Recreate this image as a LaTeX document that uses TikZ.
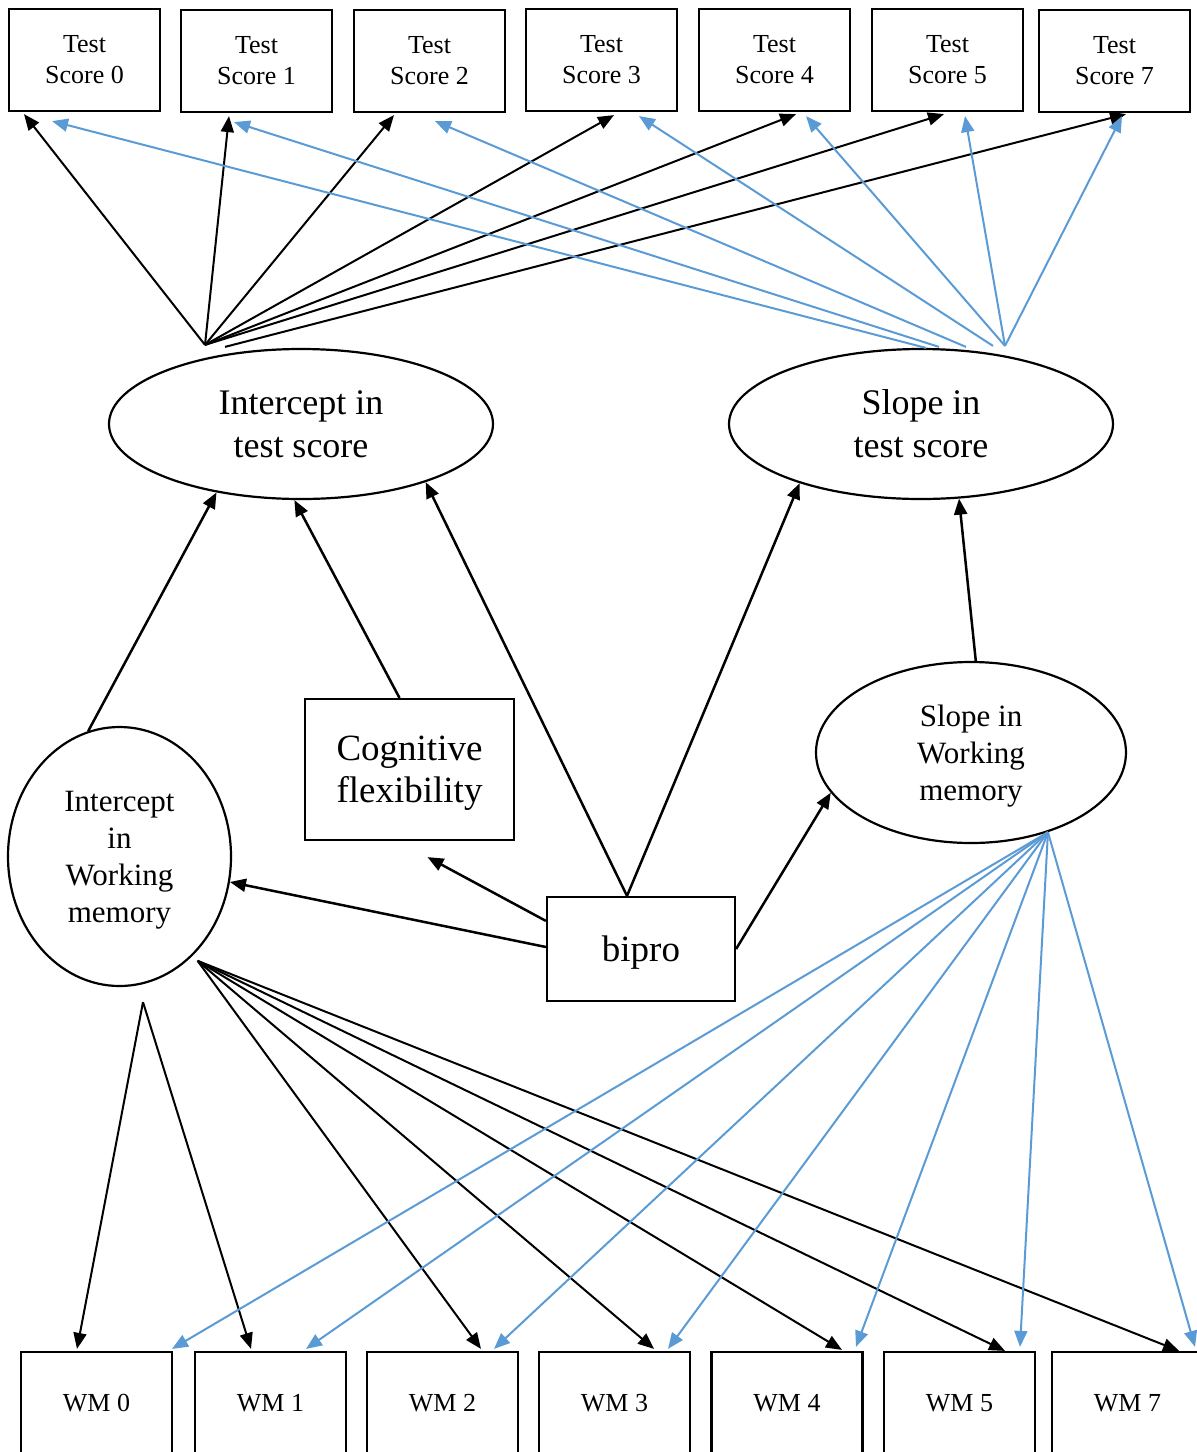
\documentclass[tikz,border=0pt]{standalone}
\usepackage{fontspec}
\setmainfont{Liberation Serif}
\usetikzlibrary{calc,arrows.meta,shapes.geometric}
\definecolor{slopeblue}{HTML}{5B9BD5}
\tikzset{
  scorebox/.style={draw, line width=1.1pt, minimum width=75.5pt, minimum height=51pt, inner sep=0pt, align=center, font=\fontsize{13}{15.5}\selectfont},
  latent/.style={draw, ellipse, line width=1.1pt, inner sep=0pt, align=center, text depth=0pt},
  pathbox/.style={draw, line width=1.1pt, inner sep=0pt, align=center, text depth=0pt, font=\fontsize{18.5}{21}\selectfont},
  loadarrow/.style={-{Triangle[length=8pt,width=6.5pt]}, line width=1pt},
  slopearrow/.style={loadarrow, draw=slopeblue},
  patharrow/.style={loadarrow, line width=1.25pt},
}

\begin{document}
\begin{tikzpicture}[x=0.5pt, y=-0.5pt]
\path[use as bounding box] (0,0) rectangle (1197,1452);
\clip (0,0) rectangle (1197,1452);

% Test score boxes - top row
\node[scorebox] (ts0) at (84.5,60) {Test\\Score 0};
\node[scorebox] (ts1) at (256.5,61) {Test\\Score 1};
\node[scorebox] (ts2) at (429.5,61) {Test\\Score 2};
\node[scorebox] (ts3) at (601.5,60) {Test\\Score 3};
\node[scorebox] (ts4) at (774.5,60) {Test\\Score 4};
\node[scorebox] (ts5) at (947.5,60) {Test\\Score 5};
\node[scorebox] (ts7) at (1114.5,61) {Test\\Score 7};

% Growth factors of the test score
\node[latent, minimum width=192pt, minimum height=75pt, font=\fontsize{18}{21.5}\selectfont] (itest) at (301,424) {Intercept in\\test score};
\node[latent, minimum width=192pt, minimum height=75pt, font=\fontsize{18}{21.5}\selectfont] (stest) at (921,424) {Slope in\\test score};

% Working memory factors and predictors
\node[latent, minimum width=111.5pt, minimum height=129.5pt, font=\fontsize{15.5}{18.5}\selectfont] (iwm) at (119.5,856.5) {Intercept\\in\\Working\\memory};
\node[latent, minimum width=155pt, minimum height=90.5pt, font=\fontsize{15.5}{18.5}\selectfont] (swm) at (971,752.5) {Slope in\\Working\\memory};
\node[pathbox, minimum width=104.5pt, minimum height=70.5pt] (cog) at (409.5,769.5) {Cognitive\\flexibility};
\node[pathbox, minimum width=94pt, minimum height=52pt] (bipro) at (641,949) {bipro};

% Working memory boxes - bottom row
\node[scorebox] (wm0) at (96.5,1403) {WM 0};
\node[scorebox] (wm1) at (270.5,1403) {WM 1};
\node[scorebox] (wm2) at (442.5,1403) {WM 2};
\node[scorebox] (wm3) at (614.5,1403) {WM 3};
\node[scorebox] (wm4) at (787,1403) {WM 4};
\node[scorebox] (wm5) at (959.5,1403) {WM 5};
\node[scorebox] (wm7) at (1127.5,1403) {WM 7};

% Intercept loadings (black)
\coordinate (ihub) at ($(itest.north)+(-96,-3)$);
\draw[loadarrow] (ihub) -- ($(ts0.south)+(-60.5,2)$);
\draw[loadarrow] (ihub) -- ($(ts1.south)+(-27.5,3)$);
\draw[loadarrow] (ihub) -- ($(ts2.south)+(-35.5,2)$);
\draw[loadarrow] (ihub) -- ($(ts3.south)+(12.5,3)$);
\draw[loadarrow] (ihub) -- ($(ts4.south)+(21.5,2)$);
\draw[loadarrow] (ihub) -- ($(ts5.south)+(-3.5,2)$);
\draw[loadarrow] ($(ihub)+(20,2)$) -- ($(ts7.south)+(11.5,1)$);

% Slope loadings (blue)
\coordinate (shub) at ($(stest.north)+(84,-2)$);
\draw[slopearrow] ($(shub)+(-79,2)$) -- ($(ts0.south)+(-32.5,9)$);
\draw[slopearrow] ($(shub)+(-66,1)$) -- ($(ts1.south)+(-22.5,9)$);
\draw[slopearrow] ($(shub)+(-39,1)$) -- ($(ts2.south)+(5.5,8)$);
\draw[slopearrow] ($(shub)+(-12,0)$) -- ($(ts3.south)+(37.5,4)$);
\draw[slopearrow] (shub) -- ($(ts4.south)+(31.5,4)$);
\draw[slopearrow] (shub) -- ($(ts5.south)+(17.5,4)$);
\draw[slopearrow] (shub) -- ($(ts7.south)+(7.5,3)$);

% Structural paths
\draw[patharrow] (iwm.104) -- (itest.219);
\draw[patharrow] ($(cog.north)+(-10,0)$) -- (itest.265);
\draw[patharrow] ($(bipro.north)+(-14,0)$) -- (itest.335);
\draw[patharrow] ($(bipro.north)+(-14,0)$) -- (stest.206);
\draw[patharrow] (swm.87) -- (stest.297);
\draw[patharrow] ($(bipro.north west)+(0,25)$) -- ($(cog.south)+(18,16)$);
\draw[patharrow] ($(bipro.west)+(0,-2)$) -- (iwm.347);
\draw[patharrow] (bipro.east) -- (swm.196);

% Working memory loadings
\coordinate (iapex) at ($(iwm.south)+(23.5,15)$);
\coordinate (iwmhub) at ($(iwm.307)+(4,6)$);
\coordinate (swmhub) at (swm.314);
\draw[loadarrow] (iapex) -- ($(wm0.north)+(-19.5,-2)$);
\draw[loadarrow] (iapex) -- ($(wm1.north)+(-19.5,-2)$);
\draw[loadarrow] (iwmhub) -- ($(wm2.north)+(38.5,-2)$);
\draw[loadarrow] (iwmhub) -- ($(wm3.north)+(39.5,-2)$);
\draw[loadarrow] (iwmhub) -- ($(wm4.north)+(55,-1)$);
\draw[loadarrow] (iwmhub) -- ($(wm5.north)+(45.5,0)$);
\draw[loadarrow] (iwmhub) -- ($(wm7.north)+(51.5,0)$);
\draw[slopearrow] (swmhub) -- ($(wm0.north)+(75.5,-2)$);
\draw[slopearrow] (swmhub) -- ($(wm1.north)+(35.5,-2)$);
\draw[slopearrow] (swmhub) -- ($(wm2.north)+(51.5,-2)$);
\draw[slopearrow] (swmhub) -- ($(wm3.north)+(53.5,-2)$);
\draw[slopearrow] (swmhub) -- ($(wm4.north)+(69,-4)$);
\draw[slopearrow] (swmhub) -- ($(wm5.north)+(60.5,-4)$);
\draw[slopearrow] (swmhub) -- ($(wm7.north)+(67.5,-4)$);
\end{tikzpicture}
\end{document}
